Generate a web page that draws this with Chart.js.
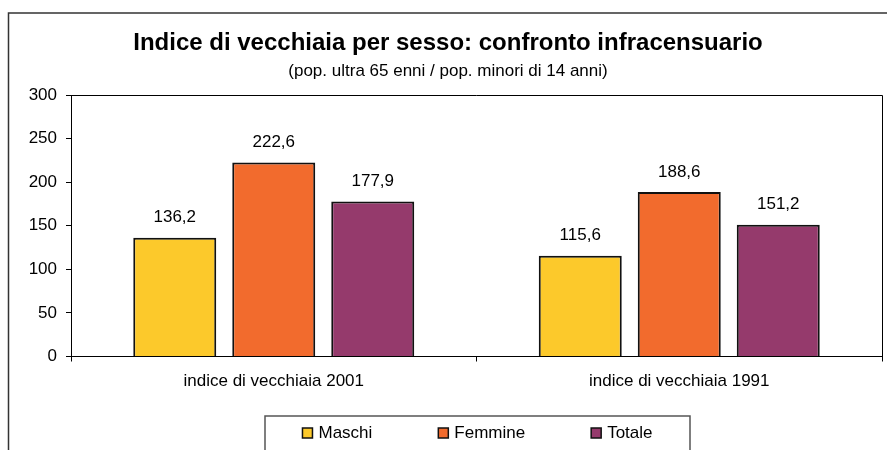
<!DOCTYPE html>
<html>
<head>
<meta charset="utf-8">
<script src="https://cdn.jsdelivr.net/npm/chart.js@4.4.1/dist/chart.umd.min.js"></script>
<style>
  html, body { margin: 0; padding: 0; background: #fff; }
  #wrap { width: 887px; height: 450px; }
</style>
</head>
<body>
<div id="wrap"><canvas id="c" width="887" height="450"></canvas></div>
<script>
// ---- data ----
const categories = ['indice di vecchiaia 2001', 'indice di vecchiaia 1991'];
const seriesNames = ['Maschi', 'Femmine', 'Totale'];
const maschi = [136.2, 115.6];
const femmine = [222.6, 188.6];
const totale = [177.9, 151.2];
const yTicks = [0, 50, 100, 150, 200, 250, 300];
const titleText = 'Indice di vecchiaia per sesso: confronto infracensuario';
const subtitleText = '(pop. ultra 65 enni / pop. minori di 14 anni)';

// ---- styles ----
const colors = ['#FCC92B', '#F26B2D', '#953A6C'];
const FONT = '"Liberation Sans", Arial, Helvetica, sans-serif';
const BODY = 17;
Chart.defaults.font.family = FONT;
Chart.defaults.color = '#000';

const fmt = v => v.toFixed(1).replace('.', ',');

const decor = {
  id: 'decor',
  beforeDraw(chart) {
    const ctx = chart.ctx;
    ctx.save();
    ctx.fillStyle = '#fff';
    ctx.fillRect(0, 0, chart.width, chart.height);
    ctx.restore();
  },
  afterDraw(chart) {
    const ctx = chart.ctx;
    const a = chart.chartArea;
    ctx.save();
    // outer frame
    ctx.strokeStyle = '#333';
    ctx.lineWidth = 1.5;
    ctx.beginPath();
    ctx.moveTo(8.5, chart.height + 2);
    ctx.lineTo(8.5, 13);
    ctx.lineTo(chart.width + 2, 13);
    ctx.stroke();
    // plot area top / right border
    ctx.strokeStyle = '#000';
    ctx.lineWidth = 1;
    ctx.beginPath();
    ctx.moveTo(a.left, Math.round(a.top) + 0.5);
    ctx.lineTo(Math.round(a.right) + 0.5, Math.round(a.top) + 0.5);
    ctx.lineTo(Math.round(a.right) + 0.5, a.bottom);
    ctx.stroke();
    // legend box
    const lx1 = 265, lx2 = 690, ly = 416;
    ctx.strokeStyle = '#555';
    ctx.lineWidth = 1.5;
    ctx.beginPath();
    ctx.moveTo(lx1, chart.height + 2);
    ctx.lineTo(lx1, ly);
    ctx.lineTo(lx2, ly);
    ctx.lineTo(lx2, chart.height + 2);
    ctx.stroke();
    // legend items
    ctx.font = BODY + 'px ' + FONT;
    ctx.textBaseline = 'middle';
    ctx.textAlign = 'left';
    const box = 10, gapText = 6, gapItem = 66, cy = 433;
    const ds = chart.data.datasets;
    const widths = ds.map(d => box + gapText + ctx.measureText(d.label).width);
    const total = widths.reduce((s, w) => s + w, 0) + gapItem * (ds.length - 1);
    let x = (lx1 + lx2) / 2 - total / 2;
    ds.forEach((d, i) => {
      ctx.fillStyle = d.backgroundColor;
      ctx.fillRect(x, cy - box / 2, box, box);
      ctx.strokeStyle = '#111';
      ctx.lineWidth = 1.5;
      ctx.strokeRect(x, cy - box / 2, box, box);
      ctx.fillStyle = '#000';
      ctx.fillText(d.label, x + box + gapText, cy + 0.5);
      x += widths[i] + gapItem;
    });
    ctx.restore();
  },
  afterDatasetsDraw(chart) {
    const ctx = chart.ctx;
    ctx.save();
    ctx.font = BODY + 'px ' + FONT;
    ctx.fillStyle = '#000';
    ctx.textAlign = 'center';
    ctx.textBaseline = 'middle';
    chart.data.datasets.forEach((d, di) => {
      const meta = chart.getDatasetMeta(di);
      meta.data.forEach((bar, i) => {
        ctx.fillText(fmt(d.data[i]), bar.x, bar.y - 20);
      });
    });
    ctx.restore();
  }
};

const seriesData = [maschi, femmine, totale];

new Chart(document.getElementById('c'), {
  type: 'bar',
  data: {
    labels: categories,
    datasets: seriesNames.map((name, i) => ({
      label: name,
      data: seriesData[i],
      backgroundColor: colors[i],
      borderColor: '#111',
      borderWidth: 2,
      categoryPercentage: 0.7324,
      barPercentage: 0.8384
    }))
  },
  options: {
    responsive: false,
    animation: false,
    layout: { padding: { top: 0, left: 14, right: 5, bottom: 53.5 } },
    plugins: {
      legend: { display: false },
      tooltip: { enabled: false },
      title: {
        display: true,
        text: titleText,
        font: { size: 24, weight: 'bold', family: FONT },
        color: '#000',
        padding: { top: 29.1, bottom: 0 }
      },
      subtitle: {
        display: true,
        text: subtitleText,
        font: { size: 17, family: FONT },
        color: '#000',
        padding: { top: 3.7, bottom: 13 }
      }
    },
    scales: {
      x: {
        grid: { display: true, drawOnChartArea: false, drawTicks: true, tickLength: 5, color: '#000', offset: true },
        border: { display: true, color: '#000', width: 1 },
        ticks: { font: { size: BODY }, color: '#000', padding: 9.5, maxRotation: 0 },
        afterFit(scale) { scale.height = 40; }
      },
      y: {
        min: 0,
        max: 300,
        afterBuildTicks(scale) { scale.ticks = yTicks.map(v => ({ value: v })); },
        grid: { display: true, drawOnChartArea: false, drawTicks: true, tickLength: 5, color: '#000' },
        border: { display: true, color: '#000', width: 1 },
        ticks: { font: { size: BODY }, color: '#000', padding: 9 },
        afterFit(scale) { scale.width = 57; }
      }
    }
  },
  plugins: [decor]
});
</script>
</body>
</html>
